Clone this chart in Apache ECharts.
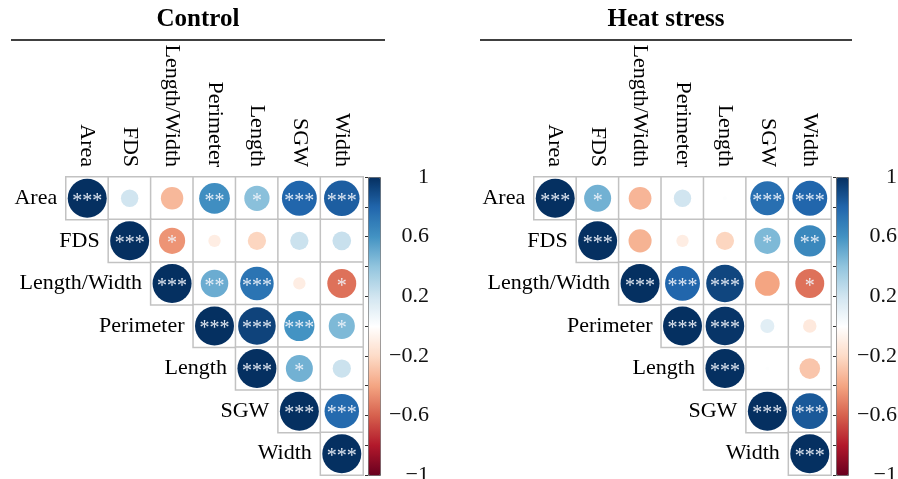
<!DOCTYPE html>
<html>
<head>
<meta charset="utf-8">
<script src="https://cdn.jsdelivr.net/npm/echarts@6.0.0/dist/echarts.min.js"></script>
<style>
html, body { margin: 0; padding: 0; background: #fff; }
#chart { width: 898px; height: 479px; }
</style>
</head>
<body>
<div id="chart"></div>
<script>
// variables, same order for rows and columns
var vars = ['Area', 'FDS', 'Length/Width', 'Perimeter', 'Length', 'SGW', 'Width'];

// upper triangle, each row starts on the diagonal
var controlR = [
    [1, 0.20, -0.33, 0.62, 0.42, 0.80, 0.83],
    [1, -0.45, -0.10, -0.22, 0.22, 0.23],
    [1, 0.50, 0.74, -0.10, -0.55],
    [1, 0.93, 0.60, 0.45],
    [1, 0.48, 0.22],
    [1, 0.78],
    [1]
];
var controlSig = [
    ['***', '', '', '**', '*', '***', '***'],
    ['***', '*', '', '', '', ''],
    ['***', '**', '***', '', '*'],
    ['***', '***', '***', '*'],
    ['***', '*', ''],
    ['***', '***'],
    ['***']
];
var heatR = [
    [1, 0.48, -0.34, 0.20, 0.01, 0.76, 0.80],
    [1, -0.35, -0.10, -0.22, 0.45, 0.65],
    [1, 0.80, 0.92, -0.40, -0.55],
    [1, 0.98, 0.13, -0.12],
    [1, 0.01, -0.28],
    [1, 0.85],
    [1]
];
var heatSig = [
    ['***', '*', '', '', '', '***', '***'],
    ['***', '', '', '', '*', '**'],
    ['***', '***', '***', '', '*'],
    ['***', '***', '', ''],
    ['***', '', ''],
    ['***', '***'],
    ['***']
];
var panelTitles = ['Control', 'Heat stress'];

// RdBu, -1 .. 1
var rdbu = ['#67001F', '#B2182B', '#D6604D', '#F4A582', '#FDDBC7', '#FFFFFF',
    '#D1E5F0', '#92C5DE', '#4393C3', '#2166AC', '#053061'];

var serif = "'Liberation Serif', 'Times New Roman', serif";
var maxD = 39;   // circle diameter for |r| = 1

function buildPanel(R, Sig, idx) {
    var cells = [], circles = [], rowLabels = [];
    for (var i = 0; i < R.length; i++) {
        for (var k = 0; k < R[i].length; k++) {
            cells.push([i + k, i, 0]);
            circles.push([i + k, i, R[i][k], Sig[i][k]]);
        }
        rowLabels.push([i, i, vars[i]]);
    }
    return [
        {
            type: 'heatmap',
            xAxisIndex: idx, yAxisIndex: idx,
            data: cells,
            itemStyle: { color: '#fff', borderColor: '#c2c2c2', borderWidth: 1.5 },
            emphasis: { disabled: true },
            silent: true
        },
        {
            type: 'scatter',
            xAxisIndex: idx, yAxisIndex: idx,
            data: circles,
            symbol: 'circle',
            symbolSize: function (val) {
                return maxD * Math.sqrt(Math.abs(val[2]));
            },
            itemStyle: { opacity: 1 },
            label: {
                show: true,
                position: 'inside',
                offset: [0, 3],
                formatter: function (p) { return p.data[3]; },
                fontFamily: serif,
                fontSize: 20,
                color: 'rgba(240,243,250,0.92)'
            },
            emphasis: { disabled: true },
            silent: true
        },
        {
            type: 'scatter',
            xAxisIndex: idx, yAxisIndex: idx,
            data: rowLabels,
            symbolSize: 0,
            itemStyle: { opacity: 1 },
            label: {
                show: true,
                position: 'left',
                distance: 30,
                formatter: function (p) { return p.data[2]; },
                fontFamily: serif,
                fontSize: 22,
                color: '#000'
            },
            silent: true
        }
    ];
}

function fmtTick(v) {
    var s = String(Number(v.toFixed(1)));
    return s.replace('-', '\u2212');
}

var matrixLeft = [66, 534];
var barLeft = [368, 836];
var titleX = [198, 666];
var lineX = [[11, 385], [480, 852]];
var top0 = 177, side = 297, tall = 298;

var grids = [], xAxes = [], yAxes = [], series = [], visualMaps = [], titles = [], lines = [];

for (var p = 0; p < 2; p++) {
    grids.push({ left: matrixLeft[p], top: top0, width: side, height: tall, outerBoundsMode: 'none' });
    xAxes.push({
        type: 'category', gridIndex: p, data: vars, position: 'top',
        axisLine: { show: false }, axisTick: { show: false },
        axisLabel: {
            rotate: 90, margin: 10, interval: 0, padding: [8, 0, 0, 0],
            fontFamily: serif, fontSize: 22, color: '#000'
        }
    });
    yAxes.push({
        type: 'category', gridIndex: p, data: vars, inverse: true,
        axisLine: { show: false }, axisTick: { show: false }, axisLabel: { show: false }
    });
    titles.push({
        text: panelTitles[p], left: titleX[p], top: 7, textAlign: 'center', padding: 0,
        textStyle: { fontFamily: serif, fontSize: 25, fontWeight: 'bold', color: '#000' }
    });
    lines.push({
        type: 'line',
        shape: { x1: lineX[p][0], y1: 40, x2: lineX[p][1], y2: 40 },
        style: { stroke: '#000', lineWidth: 1.5 }
    });
}

// colour bar axes
for (var q = 0; q < 2; q++) {
    grids.push({ left: barLeft[q], top: top0, width: 12, height: tall, outerBoundsMode: 'none' });
    xAxes.push({ type: 'value', gridIndex: 2 + q, show: false });
    yAxes.push({
        type: 'value', gridIndex: 2 + q, position: 'right', z: 10,
        min: -1, max: 1, interval: 0.4,
        axisLine: { show: false },
        axisTick: { show: true, inside: true, length: 3, lineStyle: { color: '#333', width: 1 } },
        minorTick: { show: true, splitNumber: 2, length: 3, lineStyle: { color: '#333', width: 1 } },
        splitLine: { show: false },
        axisLabel: {
            align: 'right', margin: 49, padding: [7, 0, 0, 0],
            fontFamily: serif, fontSize: 22, color: '#111',
            formatter: fmtTick
        }
    });
}

series = series.concat(buildPanel(controlR, controlSig, 0));
series = series.concat(buildPanel(heatR, heatSig, 1));

for (var m = 0; m < 2; m++) {
    visualMaps.push({
        type: 'continuous',
        seriesIndex: m * 3 + 1,
        dimension: 2,
        min: -1, max: 1,
        calculable: false,
        hoverLink: false,
        orient: 'vertical',
        left: barLeft[m], top: top0,
        itemWidth: 12, itemHeight: tall,
        padding: 0,
        borderColor: '#666', borderWidth: 1,
        inRange: { color: rdbu }
    });
}

var chart = echarts.init(document.getElementById('chart'));
chart.setOption({
    animation: false,
    backgroundColor: '#fff',
    title: titles,
    grid: grids,
    xAxis: xAxes,
    yAxis: yAxes,
    visualMap: visualMaps,
    graphic: lines,
    series: series
});
</script>
</body>
</html>
